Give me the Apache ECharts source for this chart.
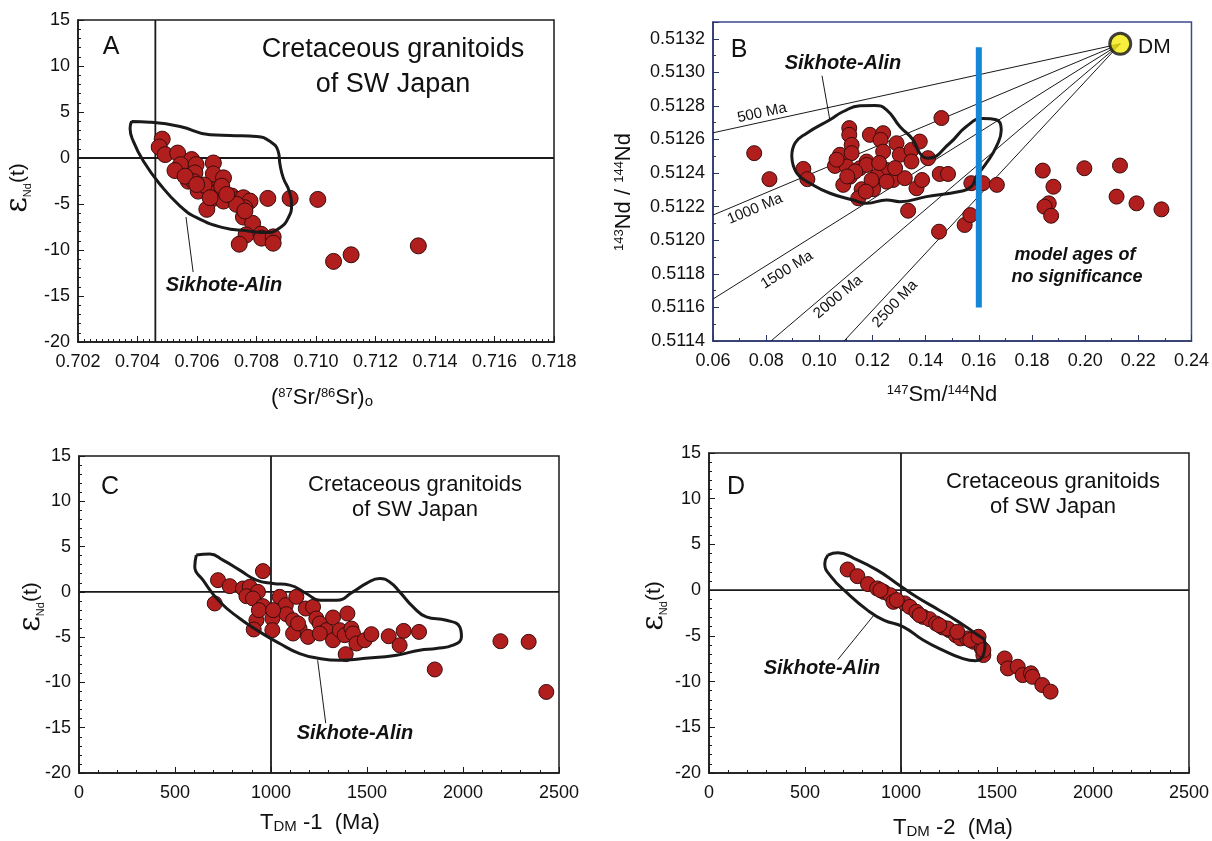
<!DOCTYPE html>
<html>
<head>
<meta charset="utf-8">
<script src="https://cdn.jsdelivr.net/npm/echarts@6/dist/echarts.min.js"></script>
<style>
  html, body { margin: 0; padding: 0; background: #fff; }
  #chart { width: 1212px; height: 841px; }
</style>
</head>
<body>
<div id="chart"></div>
<script>
// ---- panel A : eNd(t) vs initial 87Sr/86Sr ----
const aSr = [0.70483, 0.70473, 0.70493, 0.70535, 0.70582, 0.70545, 0.70526, 0.70597, 0.70655, 0.70593,
  0.70655, 0.70689, 0.70571, 0.7059, 0.70604, 0.70644, 0.70672, 0.70655, 0.70689, 0.70633,
  0.70717, 0.70739, 0.70756, 0.70778, 0.70761, 0.70756, 0.70787, 0.70838, 0.70913, 0.71006,
  0.70765, 0.70742, 0.70815, 0.70817, 0.70856, 0.70856, 0.71059, 0.71118, 0.71344, 0.7056,
  0.70624, 0.70683, 0.70733, 0.707, 0.70761, 0.70599, 0.70644];
const aEps = [2.05, 1.19, 0.37, 0.54, -0.17, -0.72, -1.36, -0.72, -0.54, -1.62,
  -1.73, -2.16, -2.52, -2.59, -3.6, -3.42, -3.6, -4.39, -4.68, -5.58,
  -4.14, -4.5, -4.32, -4.68, -5.41, -6.42, -7.1, -4.39, -4.39, -4.5,
  -8.36, -9.37, -8.28, -8.71, -8.57, -9.26, -11.24, -10.52, -9.55, -1.98,
  -2.95, -3.06, -5.04, -3.96, -5.76, -2.88, -4.32];
const aFieldSr = [0.7038, 0.70442, 0.70543, 0.70644, 0.70711, 0.70801, 0.70845, 0.70873, 0.70879, 0.7089,
  0.7091, 0.70918, 0.70907, 0.70879, 0.70834, 0.70767, 0.70688, 0.70599, 0.70543, 0.70476,
  0.7042, 0.70386, 0.70375, 0.7038];
const aFieldEps = [3.97, 3.89, 3.43, 2.53, 2.45, 2.35, 1.81, 0.72, -0.71, -2.16,
  -3.6, -5.04, -6.49, -7.57, -8.11, -7.92, -7.57, -6.49, -5.22, -2.88,
  -0.36, 1.81, 3.24, 3.97];
const aChurSr = 0.7046;

// ---- panel B : 143Nd/144Nd vs 147Sm/144Nd ----
const bSm = [0.0755, 0.08124, 0.094, 0.0955, 0.11126, 0.11126, 0.11902, 0.12401, 0.12304, 0.11216,
  0.10777, 0.10589, 0.11216, 0.11779, 0.11527, 0.11152, 0.10901, 0.11591, 0.12026, 0.11463,
  0.12401, 0.12904, 0.13028, 0.13467, 0.13778, 0.13467, 0.12529, 0.12777, 0.12154, 0.13216,
  0.13655, 0.13865, 0.1409, 0.14593, 0.14529, 0.14841, 0.1334, 0.11779, 0.11028, 0.12529,
  0.11966, 0.15719, 0.16154, 0.16679, 0.14503, 0.15467, 0.15681, 0.18405, 0.18807, 0.1863,
  0.18469, 0.1872, 0.1997, 0.2131, 0.21182, 0.21932, 0.2287, 0.1065, 0.1135, 0.1225,
  0.1285, 0.1175, 0.1105];
const bNd = [0.512519, 0.512364, 0.512425, 0.512364, 0.512668, 0.512628, 0.512628, 0.512638, 0.512598, 0.512568,
  0.512509, 0.512443, 0.512519, 0.512469, 0.512429, 0.512379, 0.51233, 0.512304, 0.512304, 0.51225,
  0.512528, 0.512578, 0.512509, 0.512538, 0.512588, 0.512469, 0.512419, 0.512359, 0.512379, 0.51237,
  0.51231, 0.512359, 0.512489, 0.512728, 0.512395, 0.512395, 0.512176, 0.512449, 0.512439, 0.512349,
  0.512359, 0.51234, 0.51234, 0.51233, 0.512051, 0.512091, 0.51215, 0.512415, 0.512319, 0.51222,
  0.5122, 0.512146, 0.512429, 0.512445, 0.51226, 0.51222, 0.512184, 0.51248, 0.51241, 0.51246,
  0.51243, 0.51229, 0.51238];
const bFieldSm = [0.08964, 0.09088, 0.09527, 0.10401, 0.10901, 0.11527, 0.1209, 0.12529, 0.13028, 0.13527,
  0.13778, 0.1409, 0.14904, 0.15531, 0.16154, 0.16657, 0.16844, 0.16657, 0.16281, 0.15906,
  0.15719, 0.15279, 0.1403, 0.13028, 0.12529, 0.11779, 0.11276, 0.10401, 0.09651, 0.09152, 0.08964];
const bFieldNd = [0.5125, 0.512579, 0.512638, 0.512718, 0.512767, 0.512801, 0.512803, 0.512777, 0.512678, 0.512598,
  0.512519, 0.512489, 0.512578, 0.512678, 0.512725, 0.512718, 0.512658, 0.512558, 0.512459, 0.512379,
  0.512319, 0.51229, 0.51226, 0.51223, 0.51224, 0.51222, 0.51224, 0.51228, 0.51234, 0.5124, 0.5125];
const dmPoint = [0.2132, 0.51317];
const ageNames = ['500 Ma', '1000 Ma', '1500 Ma', '2000 Ma', '2500 Ma'];
const ageEndSm = [0.06, 0.06, 0.06, 0.0818, 0.1093];
const ageEndNd = [0.51264, 0.51215, 0.51165, 0.5114, 0.5114];
const cutoffSm = 0.16;
const cutoffNd = [0.5116, 0.51315];

// ---- panel C : eNd(t) vs TDM-1 ----
const cT1 = [724, 707, 785, 958, 854, 889, 932, 872, 906, 958,
  924, 910, 1007, 1007, 1045, 1077, 1132, 1080, 1115, 1181,
  1219, 1149, 1193, 1236, 1254, 1289, 1323, 1398, 1323, 1358,
  1384, 1419, 1427, 1445, 1488, 1523, 1389, 1613, 1691, 1771,
  1670, 1853, 937, 1011, 1115, 1141, 1254, 2195, 2342, 2434];
const cEps = [1.29, -1.28, 0.63, 2.29, 0.37, 0.55, 0, -0.48, -0.73, -1.58,
  -3.13, -4.15, -2.94, -4.23, -0.55, -1.47, -0.55, -2.46, -3.13, -1.84,
  -1.66, -4.05, -4.97, -2.94, -3.49, -4.23, -2.83, -2.39, -5.34, -4.23,
  -4.78, -4.05, -4.6, -5.7, -5.34, -4.67, -6.88, -4.9, -4.31, -4.42,
  -5.89, -8.57, -2.02, -2.02, -4.6, -3.49, -4.6, -5.45, -5.52, -11.05];
const cFieldT = [611, 681, 750, 837, 924, 1010, 1097, 1184, 1254, 1341,
  1427, 1497, 1566, 1618, 1670, 1740, 1809, 1913, 1983, 1992,
  1948, 1861, 1774, 1653, 1479, 1358, 1254, 1149, 1045, 941,
  837, 733, 646, 603, 611];
const cFieldEps = [4.06, 4.17, 3.5, 2.4, 1.29, 0.93, 0.74, -0.18, -0.92, -0.92,
  0, 0.93, 1.48, 1.1, 0, -1.66, -2.76, -3.13, -3.87, -4.97,
  -5.89, -6.25, -6.44, -6.99, -7.36, -7.55, -7.36, -6.81, -5.7, -4.42,
  -2.94, -1.1, 1.29, 2.76, 4.06];

// ---- panel D : eNd(t) vs TDM-2 ----
const dT2 = [722, 773, 828, 876, 910, 944, 961, 1020, 1046, 1080,
  1115, 1148, 1183, 1217, 1251, 1285, 1310, 1345, 1378, 1421,
  1429, 1540, 1557, 1608, 1634, 1677, 1685, 1736, 1779, 893,
  978, 1097, 1242, 1199, 1293, 1361, 1404, 1429];
const dEps = [2.26, 1.53, 0.66, 0.19, -0.19, -0.55, -1.28, -1.45, -1.83, -2.37,
  -2.92, -3.17, -3.64, -4.08, -4.37, -4.92, -5.28, -5.28, -5.65, -6.37,
  -7.1, -7.47, -8.56, -8.38, -9.29, -9.1, -9.48, -10.38, -11.1, 0,
  -1.09, -2.73, -4.19, -3.83, -4.56, -5.46, -5.1, -6.56];
const dFieldT = [619, 671, 757, 876, 978, 1080, 1199, 1285, 1387, 1438,
  1429, 1387, 1319, 1217, 1115, 1012, 910, 825, 722, 637, 603, 619];
const dFieldEps = [3.83, 4.08, 3.46, 2.19, 0.73, -0.73, -2.19, -3.28, -4.73, -5.83,
  -7.1, -7.73, -7.47, -6.56, -5.46, -4.01, -3.28, -2.19, -0.36, 1.45, 2.92, 3.83];

// leader lines from label to field outline
const aLeader = [[0.70563, -6.41], [0.70587, -12.4]];
const bLeader = [[0.10101, 0.51298], [0.10401, 0.512712]];
const cLeader = [[1243, -7.55], [1285, -14.5]];
const dLeader = [[859, -2.73], [671, -7.6]];

const FONT = '"Liberation Sans", Arial, sans-serif';
const INK = '#1a1a1a';
const NAVY = '#3c4a8c';

const zip = (xs, ys) => xs.map((x, i) => [x, ys[i]]);

function xAxisOf(grid, min, max, interval, minor, digits, color) {
  return {
    type: 'value', gridIndex: grid, min: min, max: max, interval: interval,
    axisLine: { show: true, onZero: false, lineStyle: { color: color, width: 1.5 } },
    axisTick: { show: true, inside: true, length: 6, lineStyle: { color: color } },
    minorTick: { show: true, splitNumber: minor, length: 3, lineStyle: { color: color } },
    splitLine: { show: false },
    axisLabel: {
      color: '#111', fontSize: 18, fontFamily: FONT, margin: 11,
      formatter: v => v.toFixed(digits)
    }
  };
}

function yAxisOf(grid, min, max, interval, minor, digits, color) {
  return {
    type: 'value', gridIndex: grid, min: min, max: max, interval: interval,
    axisLine: { show: true, onZero: false, lineStyle: { color: color, width: 1.5 } },
    axisTick: { show: true, inside: true, length: 6, lineStyle: { color: color } },
    minorTick: { show: true, splitNumber: minor, length: 3, lineStyle: { color: color } },
    splitLine: { show: false },
    axisLabel: {
      color: '#111', fontSize: 18, fontFamily: FONT, margin: 8, showMaxLabel: digits === 4 ? false : true,
      formatter: v => v.toFixed(digits)
    }
  };
}

function dots(idx, data, size) {
  return {
    type: 'scatter', xAxisIndex: idx, yAxisIndex: idx, data: data, symbolSize: size, z: 3,
    itemStyle: { color: '#b01e1e', borderColor: '#3a0c0c', borderWidth: 1, opacity: 1 }
  };
}

function path(idx, data, width, color, smooth, z) {
  return {
    type: 'line', xAxisIndex: idx, yAxisIndex: idx, data: data, symbol: 'none', smooth: smooth,
    lineStyle: { color: color, width: width }, z: z, silent: true
  };
}

function txt(x, y, text, size, extra) {
  return {
    type: 'text', x: x, y: y, silent: true,
    style: Object.assign({
      text: text, fill: '#111', fontSize: size, fontFamily: FONT,
      align: 'center', verticalAlign: 'middle'
    }, extra || {})
  };
}

const epsName = '{e|\u03b5}{s|Nd}{p|(t)}';
const epsRich = {
  e: { fontSize: 30, fontFamily: '"DejaVu Serif", serif', fill: '#111' },
  s: { fontSize: 11, fontFamily: FONT, fill: '#111', verticalAlign: 'bottom', padding: [8, 0, 0, 0] },
  p: { fontSize: 21, fontFamily: FONT, fill: '#111' }
};
const supRich = {
  n: { fontSize: 22, fontFamily: FONT, fill: '#111' },
  u: { fontSize: 13, fontFamily: FONT, fill: '#111', verticalAlign: 'top' },
  d: { fontSize: 15, fontFamily: FONT, fill: '#111', verticalAlign: 'bottom' }
};
const boldIt = { fontWeight: 'bold', fontStyle: 'italic' };

const ageLabelPos = [[762, 113, 12], [755, 209, 22.7], [787, 270, 32], [838, 297, 40], [895, 304, 47]];

const graphics = [
  // panel A
  txt(111, 47, 'A', 25),
  txt(393, 50, 'Cretaceous granitoids', 27),
  txt(393, 85, 'of SW Japan', 27),
  txt(224, 285, 'Sikhote-Alin', 20, boldIt),
  txt(322, 398, '{n|(}{u|87}{n|Sr/}{u|86}{n|Sr)}{d|o}', 22, { rich: supRich }),
  Object.assign(txt(18, 188, epsName, 20, { rich: epsRich }), { rotation: Math.PI / 2 }),
  // panel B
  txt(739, 50, 'B', 25),
  txt(843, 63, 'Sikhote-Alin', 20, boldIt),
  txt(1138, 47, 'DM', 21, { align: 'left' }),
  txt(1075, 255, 'model ages of', 18, boldIt),
  txt(1077, 277, 'no significance', 18, boldIt),
  txt(942, 395, '{u|147}{n|Sm/}{u|144}{n|Nd}', 22, { rich: supRich }),
  Object.assign(txt(624, 192, '{u|143}{n|Nd / }{u|144}{n|Nd}', 22, { rich: supRich }), { rotation: Math.PI / 2 }),
  // panel C
  txt(110, 487, 'C', 25),
  txt(415, 485, 'Cretaceous granitoids', 22),
  txt(415, 510, 'of SW Japan', 22),
  txt(355, 733, 'Sikhote-Alin', 20, boldIt),
  txt(320, 823, '{n|T}{d|DM}{n| -1  (Ma)}', 22, { rich: supRich }),
  Object.assign(txt(31, 607, epsName, 20, { rich: epsRich }), { rotation: Math.PI / 2 }),
  // panel D
  txt(736, 487, 'D', 25),
  txt(1053, 482, 'Cretaceous granitoids', 22),
  txt(1053, 507, 'of SW Japan', 22),
  txt(822, 668, 'Sikhote-Alin', 20, boldIt),
  txt(953, 828, '{n|T}{d|DM}{n| -2  (Ma)}', 22, { rich: supRich }),
  Object.assign(txt(654, 606, epsName, 20, { rich: epsRich }), { rotation: Math.PI / 2 })
];
ageNames.forEach((name, i) => {
  const p = ageLabelPos[i];
  graphics.push(Object.assign(txt(p[0], p[1], name, 15), { rotation: p[2] * Math.PI / 180 }));
});

const series = [
  // A
  path(0, [[aChurSr, -20], [aChurSr, 15]], 1.8, INK, false, 1),
  path(0, [[0.702, 0], [0.718, 0]], 1.8, INK, false, 1),
  dots(0, zip(aSr, aEps), 16),
  path(0, zip(aFieldSr, aFieldEps), 3, INK, 0.5, 4),
  path(0, aLeader, 1, INK, false, 4),
  // B
  ...ageEndSm.map((x, i) => path(1, [[x, ageEndNd[i]], dmPoint], 1, INK, false, 1)),
  dots(1, zip(bSm, bNd), 15),
  path(1, zip(bFieldSm, bFieldNd), 3, INK, 0.5, 4),
  path(1, bLeader, 1, INK, false, 4),
  path(1, [[cutoffSm, cutoffNd[0]], [cutoffSm, cutoffNd[1]]], 6, '#1487d6', false, 5),
  {
    type: 'scatter', xAxisIndex: 1, yAxisIndex: 1, data: [dmPoint], symbolSize: 21, z: 6,
    itemStyle: { color: '#f5ea0c', borderColor: '#111', borderWidth: 3 }
  },
  // C
  path(2, [[1000, -20], [1000, 15]], 1.8, INK, false, 1),
  path(2, [[0, 0], [2500, 0]], 1.8, INK, false, 1),
  dots(2, zip(cT1, cEps), 15),
  path(2, zip(cFieldT, cFieldEps), 3, INK, 0.5, 4),
  path(2, cLeader, 1, INK, false, 4),
  // D
  path(3, [[1000, -20], [1000, 15]], 1.8, INK, false, 1),
  path(3, [[0, 0], [2500, 0]], 1.8, INK, false, 1),
  dots(3, zip(dT2, dEps), 15),
  path(3, zip(dFieldT, dFieldEps), 3, INK, 0.5, 4),
  path(3, dLeader, 1, INK, false, 4)
];

const chart = echarts.init(document.getElementById('chart'), null, { renderer: 'canvas' });
chart.setOption({
  animation: false,
  backgroundColor: '#fff',
  grid: [
    { left: 78, top: 20, width: 476, height: 322, show: true, borderColor: INK, borderWidth: 1.5 },
    { left: 713, top: 22, width: 479, height: 319, show: true, borderColor: NAVY, borderWidth: 1.5 },
    { left: 79, top: 456, width: 480, height: 317, show: true, borderColor: INK, borderWidth: 1.5 },
    { left: 709, top: 453, width: 489, height: 320, show: true, borderColor: INK, borderWidth: 1.5 }
  ],
  xAxis: [
    xAxisOf(0, 0.702, 0.718, 0.002, 10, 3, INK),
    xAxisOf(1, 0.06, 0.24, 0.02, 2, 2, '#2a3566'),
    xAxisOf(2, 0, 2500, 500, 5, 0, INK),
    xAxisOf(3, 0, 2500, 500, 5, 0, INK)
  ],
  yAxis: [
    yAxisOf(0, -20, 15, 5, 5, 0, INK),
    yAxisOf(1, 0.5114, 0.5133, 0.0002, 2, 4, '#2a3566'),
    yAxisOf(2, -20, 15, 5, 5, 0, INK),
    yAxisOf(3, -20, 15, 5, 5, 0, INK)
  ],
  series: series,
  graphic: graphics
});
</script>
</body>
</html>
